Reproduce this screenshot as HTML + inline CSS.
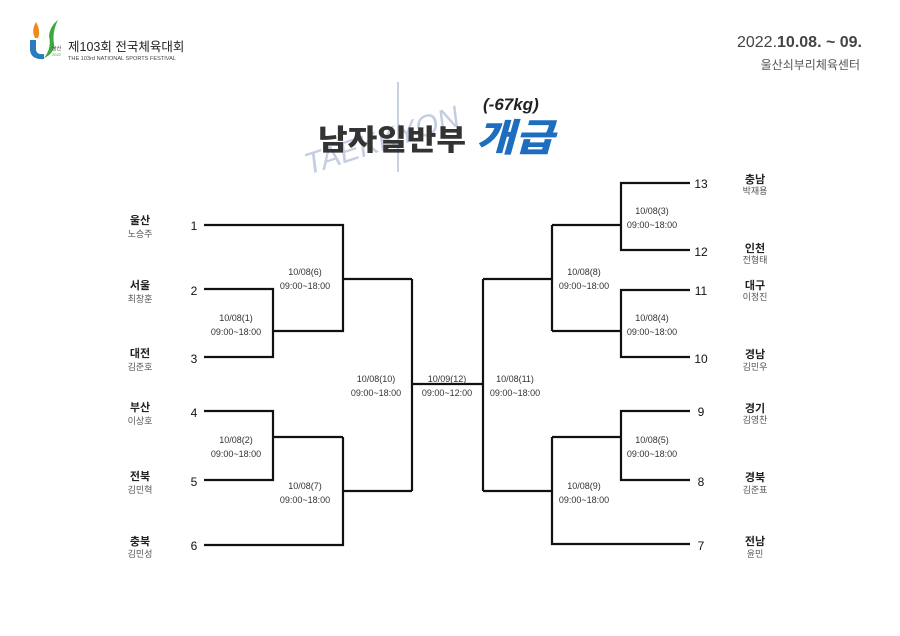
<!DOCTYPE html>
<html><head><meta charset="utf-8"><style>
html,body{margin:0;padding:0;background:#fff;}
body{width:900px;height:636px;overflow:hidden;position:relative;font-family:"Liberation Sans","Noto Sans CJK KR",sans-serif;}
svg{position:absolute;left:0;top:0;}
</style></head><body>
<svg width="900" height="636" viewBox="0 0 900 636" font-family="Liberation Sans, Noto Sans CJK KR, sans-serif">
<!-- logo -->
<path d="M35 38 Q31 30 36 22 Q41 31 38 38 Z" fill="#f08a1c"/>
<path d="M30 40 L30 50 Q31 60 44 59 L44 54 Q36 55 36 49 L36 40 Z" fill="#2a7ac0"/>
<path d="M44 58 Q52 48 49 36 Q50 26 58 20 Q52 32 54 44 Q54 54 44 58 Z" fill="#3aaa3a"/>
<text x="52" y="50" font-size="5" fill="#333">울산</text>
<text x="52" y="56" font-size="4" fill="#3aaa3a">2022</text>
<text x="68" y="51" font-size="12.5" fill="#222">제103회 전국체육대회</text>
<text x="68" y="60" font-size="5.6" fill="#444">THE 103rd NATIONAL SPORTS FESTIVAL</text>
<text x="862" y="47" font-size="16" fill="#444" text-anchor="end">2022.<tspan font-weight="bold">10.08. ~ 09.</tspan></text>
<text x="860" y="69" font-size="12" fill="#555" text-anchor="end">울산쇠부리체육센터</text>
<!-- title -->
<text x="295" y="150" font-size="30" font-style="italic" fill="#c4cde2" transform="rotate(-18 380 120)">TAEKKYON</text>
<line x1="398" y1="82" x2="398" y2="172" stroke="#c8d0e2" stroke-width="2"/>
<text x="483" y="110" font-size="17" font-weight="bold" font-style="italic" fill="#222">(-67kg)</text>
<text x="318" y="150" font-size="29" font-weight="900" fill="#333" textLength="148" lengthAdjust="spacingAndGlyphs">남자일반부</text>
<text x="476" y="151" font-size="38" font-weight="900" font-style="italic" fill="#1e6ec0" textLength="78" lengthAdjust="spacingAndGlyphs">개급</text>
<!-- brackets -->
<g stroke="#111" stroke-width="2.2" fill="none">
<polyline points="204,225 343,225 343,331 273,331"/>
<polyline points="204,289 273,289 273,357 204,357"/>
<line x1="343" y1="279" x2="412" y2="279"/>
<polyline points="204,411 273,411 273,480 204,480"/>
<line x1="273" y1="437" x2="343" y2="437"/>
<polyline points="204,545 343,545 343,437"/>
<line x1="343" y1="491" x2="412" y2="491"/>
<line x1="412" y1="279" x2="412" y2="491"/>
<line x1="412" y1="384" x2="483" y2="384"/>
<line x1="483" y1="279" x2="483" y2="491"/>
<line x1="483" y1="279" x2="552" y2="279"/>
<line x1="552" y1="225" x2="552" y2="331"/>
<polyline points="690,183 621,183 621,250 690,250"/>
<line x1="552" y1="225" x2="621" y2="225"/>
<polyline points="690,290 621,290 621,357 690,357"/>
<line x1="552" y1="331" x2="621" y2="331"/>
<line x1="483" y1="491" x2="552" y2="491"/>
<polyline points="690,411 621,411 621,480 690,480"/>
<line x1="552" y1="437" x2="621" y2="437"/>
<polyline points="690,544 552,544 552,437"/>
</g>
<g font-size="12" fill="#111" text-anchor="middle">
<text x="194" y="230">1</text><text x="194" y="295">2</text><text x="194" y="363">3</text>
<text x="194" y="417">4</text><text x="194" y="486">5</text><text x="194" y="550">6</text>
<text x="701" y="188">13</text><text x="701" y="256">12</text><text x="701" y="295">11</text>
<text x="701" y="363">10</text><text x="701" y="416">9</text><text x="701" y="486">8</text><text x="701" y="550">7</text>
</g>
<g text-anchor="middle" fill="#222">
<g font-size="11" font-weight="bold">
<text x="140" y="224">울산</text><text x="140" y="289">서울</text><text x="140" y="357">대전</text>
<text x="140" y="411">부산</text><text x="140" y="480">전북</text><text x="140" y="545">충북</text>
<text x="755" y="183">충남</text><text x="755" y="252">인천</text><text x="755" y="289">대구</text>
<text x="755" y="358">경남</text><text x="755" y="412">경기</text><text x="755" y="481">경북</text><text x="755" y="545">전남</text>
</g>
<g font-size="9" fill="#555">
<text x="140" y="237">노승주</text><text x="140" y="302">최창훈</text><text x="140" y="370">김준호</text>
<text x="140" y="424">이상호</text><text x="140" y="493">김민혁</text><text x="140" y="557">김민성</text>
<text x="755" y="194">박재용</text><text x="755" y="263">전형태</text><text x="755" y="300">이정진</text>
<text x="755" y="370">김민우</text><text x="755" y="423">김영찬</text><text x="755" y="493">김준표</text><text x="755" y="557">윤민</text>
</g>
<g font-size="9" fill="#333">
<text x="305" y="275">10/08(6)</text><text x="305" y="289">09:00~18:00</text>
<text x="236" y="321">10/08(1)</text><text x="236" y="335">09:00~18:00</text>
<text x="236" y="443">10/08(2)</text><text x="236" y="457">09:00~18:00</text>
<text x="305" y="489">10/08(7)</text><text x="305" y="503">09:00~18:00</text>
<text x="376" y="382">10/08(10)</text><text x="376" y="396">09:00~18:00</text>
<text x="447" y="382">10/09(12)</text><text x="447" y="396">09:00~12:00</text>
<text x="515" y="382">10/08(11)</text><text x="515" y="396">09:00~18:00</text>
<text x="584" y="275">10/08(8)</text><text x="584" y="289">09:00~18:00</text>
<text x="652" y="214">10/08(3)</text><text x="652" y="228">09:00~18:00</text>
<text x="652" y="321">10/08(4)</text><text x="652" y="335">09:00~18:00</text>
<text x="652" y="443">10/08(5)</text><text x="652" y="457">09:00~18:00</text>
<text x="584" y="489">10/08(9)</text><text x="584" y="503">09:00~18:00</text>
</g>
</g>
</svg>
</body></html>
